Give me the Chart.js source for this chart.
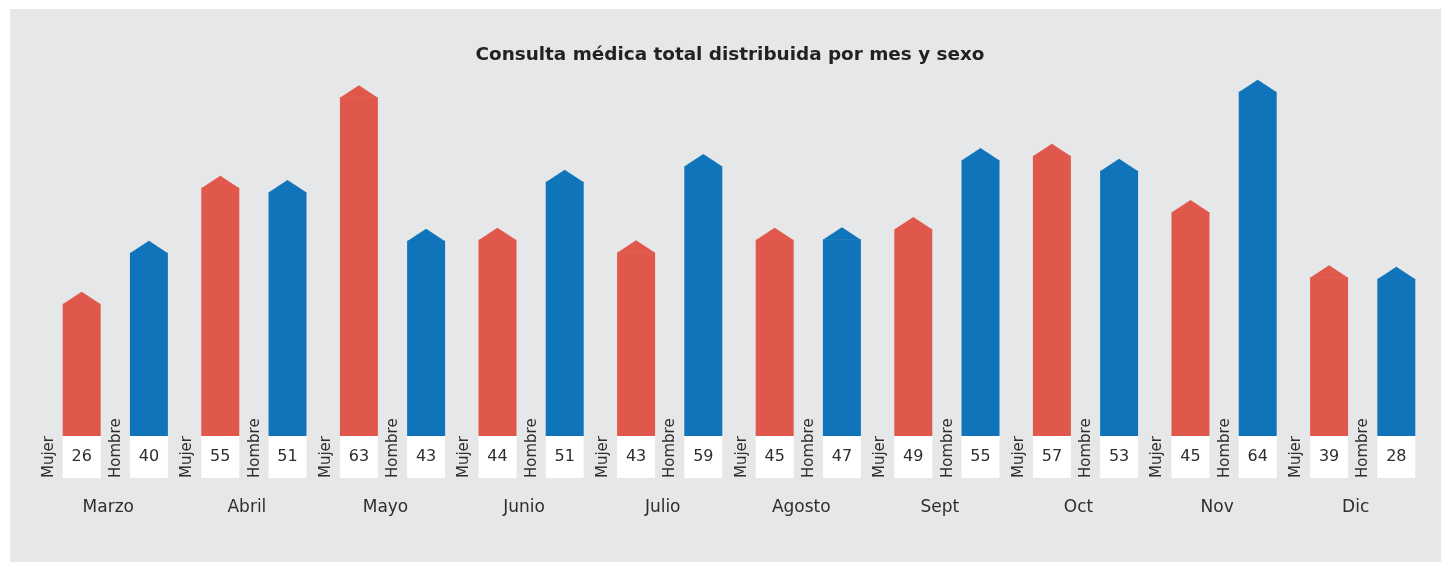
<!DOCTYPE html>
<html>
<head>
<meta charset="utf-8">
<script src="https://cdn.jsdelivr.net/npm/chart.js@4/dist/chart.umd.min.js"></script>
<style>
    body { margin: 0; background: #ffffff; }
    #wrap { position: absolute; left: 10px; top: 9px; width: 1431px; height: 553px; background: #e6e7e8; }
</style>
</head>
<body>
<div id="wrap"><canvas id="chart" width="1431" height="553"></canvas></div>
<script>
// Datos
const meses = ['Marzo', 'Abril', 'Mayo', 'Junio', 'Julio', 'Agosto', 'Sept', 'Oct', 'Nov', 'Dic'];
// valores rotulados en las cajas blancas
const mujerValores = [26, 55, 63, 44, 43, 45, 49, 57, 45, 39];
const hombreValores = [40, 51, 43, 51, 59, 47, 55, 53, 64, 28];
// altura de las barras tal como se ve en la imagen
const mujerAltura = [24.4, 45.8, 62.5, 36.2, 33.9, 36.2, 38.2, 51.7, 41.3, 29.3];
const hombreAltura = [33.8, 45.0, 36.0, 46.9, 49.8, 36.3, 50.9, 48.9, 63.5, 29.0];

const rojo = '#e0584c';
const azul = '#1074bb';
const textoColor = '#2e2e2e';
const fuente = '"DejaVu Sans", sans-serif';

const titulo = 'Consulta médica total distribuida por mes y sexo';
const rotulos = ['Mujer', 'Hombre'];
const valores = [mujerValores, hombreValores];

// Punta, caja con valor y rotulo vertical de cada barra
const barDecor = {
    id: 'barDecor',
    afterDatasetsDraw(chart) {
        const ctx = chart.ctx;
        ctx.save();
        chart.data.datasets.forEach((ds, i) => {
            const meta = chart.getDatasetMeta(i);
            meta.data.forEach((bar, j) => {
                const w = bar.width;
                const left = bar.x - w / 2;
                // punta
                ctx.fillStyle = ds.backgroundColor;
                ctx.beginPath();
                ctx.moveTo(left, bar.y + 0.5);
                ctx.lineTo(bar.x, bar.y - 12);
                ctx.lineTo(left + w, bar.y + 0.5);
                ctx.closePath();
                ctx.fill();
                // caja blanca
                ctx.fillStyle = '#ffffff';
                ctx.fillRect(left, bar.base, w, 42);
                ctx.fillStyle = textoColor;
                ctx.font = '16px ' + fuente;
                ctx.textAlign = 'center';
                ctx.textBaseline = 'middle';
                ctx.fillText(valores[i][j], bar.x, bar.base + 21);
                // rotulo vertical
                ctx.save();
                ctx.translate(left - 10, bar.base + 42);
                ctx.rotate(-Math.PI / 2);
                ctx.font = '15px ' + fuente;
                ctx.textAlign = 'left';
                ctx.textBaseline = 'alphabetic';
                ctx.fillText(rotulos[i], 0, 0);
                ctx.restore();
            });
        });
        // titulo
        ctx.fillStyle = '#222222';
        ctx.font = 'bold 18.4px ' + fuente;
        ctx.textAlign = 'center';
        ctx.textBaseline = 'middle';
        ctx.fillText(titulo, 720, 46);
        ctx.restore();
    }
};

new Chart(document.getElementById('chart'), {
    type: 'bar',
    data: {
        labels: meses,
        datasets: [
            { label: 'Mujer', data: mujerAltura, backgroundColor: rojo },
            { label: 'Hombre', data: hombreAltura, backgroundColor: azul }
        ]
    },
    options: {
        responsive: false,
        animation: false,
        events: [],
        categoryPercentage: 0.97,
        barPercentage: 0.565,
        layout: { padding: { left: 36, right: 9, top: 80, bottom: 44 } },
        scales: {
            x: {
                grid: { display: false, drawTicks: false },
                border: { display: false },
                ticks: {
                    color: textoColor,
                    font: { family: fuente, size: 17 },
                    padding: 61,
                    labelOffset: -7
                },
                afterFit(scale) { scale.height = 82; }
            },
            y: {
                display: false,
                min: 0,
                max: 64
            }
        },
        plugins: {
            legend: { display: false },
            tooltip: { enabled: false }
        }
    },
    plugins: [barDecor]
});
</script>
</body>
</html>
